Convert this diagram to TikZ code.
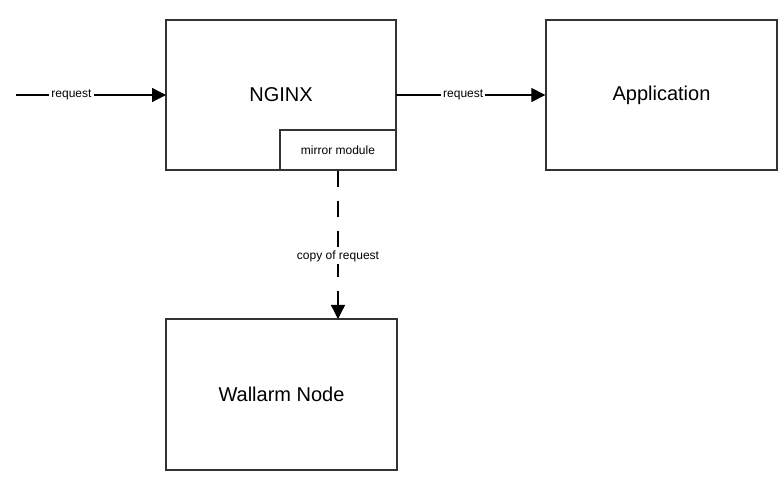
\documentclass[tikz,border=0pt]{standalone}
\usepackage{fontspec}
\setmainfont{Liberation Sans}
\usetikzlibrary{arrows.meta}
\definecolor{edge}{HTML}{333333}
\begin{document}
\begin{tikzpicture}[x=1pt,y=-1pt,
  box/.style={draw=edge,line width=1.4pt,fill=white,inner sep=0pt,font=\fontsize{20}{24}\selectfont},
  lbl/.style={fill=white,inner sep=2pt,font=\fontsize{12}{14}\selectfont},
  conn/.style={draw=black,line width=1.3pt,-{Triangle[length=14pt,width=14pt]}}]
\useasboundingbox (0,0) rectangle (782,478);
\path[box] (166,20) rectangle (396,170);
\node (nginx) at (281,95) [font=\fontsize{20}{24}\selectfont] {NGINX};
\coordinate (nginxW) at (166,95);
\coordinate (nginxE) at (396,95);
\node[box,minimum width=116pt,minimum height=40pt,font=\fontsize{12}{14}\selectfont] (mirror) at (338,150) {mirror module};
\node[box,minimum width=231pt,minimum height=150pt] (app) at (661.5,95) {Application};
\node[box,minimum width=231pt,minimum height=151pt] (wall) at (281.5,394.5) {Wallarm Node};
\coordinate (start) at (16,95);
\coordinate (wallIn) at (338,319);
\draw[conn] (start) -- node[lbl,pos=0.37]{request} (nginxW);
\draw[conn] (nginxE) -- node[lbl,pos=0.45]{request} (app.west);
\draw[conn,dash pattern=on 16pt off 14pt] (mirror.south) -- node[lbl,pos=0.58]{copy of request} (wallIn);
\end{tikzpicture}
\end{document}
